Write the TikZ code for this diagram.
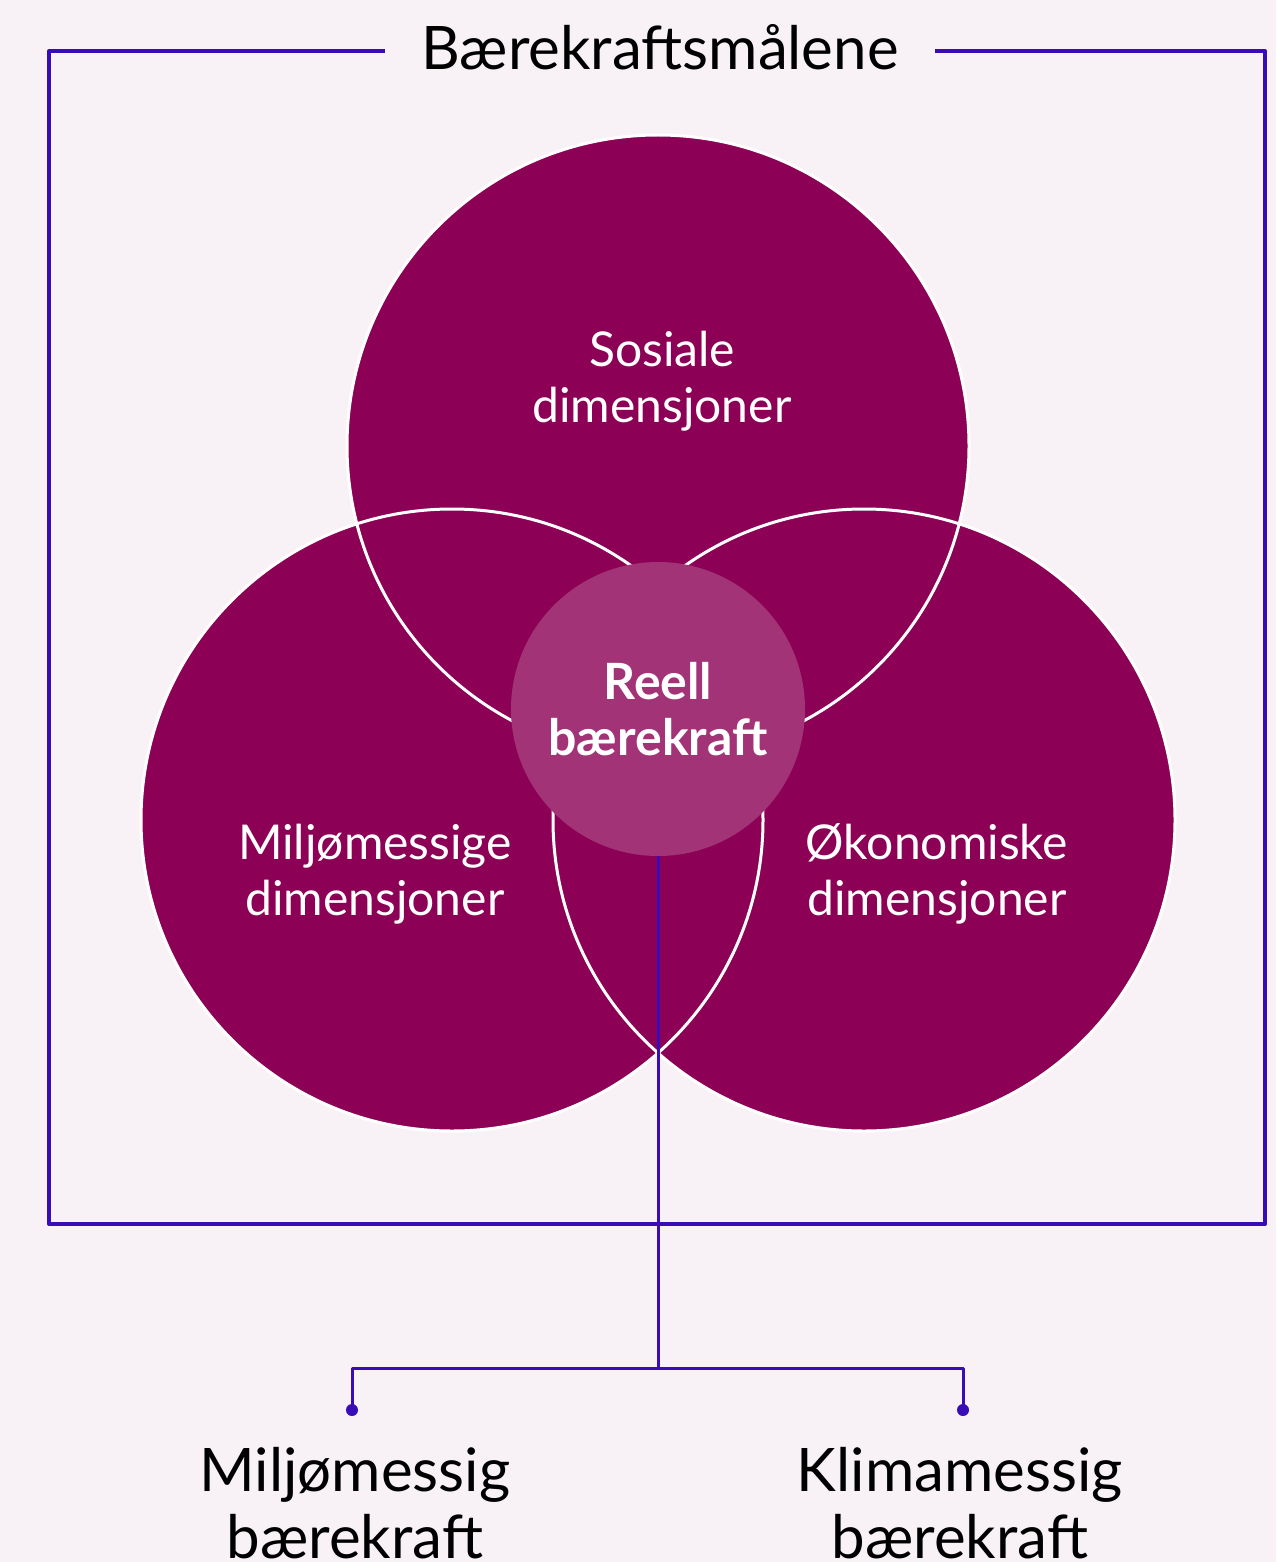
\documentclass[tikz,border=0pt]{standalone}
\usepackage{fontspec}
\setmainfont{Lato}
\usetikzlibrary{positioning}
\definecolor{bg}{HTML}{F8F2F6}
\definecolor{plum}{HTML}{8C0055}
\definecolor{rose}{HTML}{A33377}
\definecolor{indigo}{HTML}{3A0CB8}
\tikzset{
	dimfill/.style={circle,fill=plum,minimum size=311pt,inner sep=0pt},
	ring/.style={draw=white,line width=1.5pt},
	dimtext/.style={text=white,align=center,font=\fontsize{24}{28}\selectfont},
	frame/.style={draw=indigo,line width=2pt},
	link/.style={draw=indigo,line width=1.5pt},
	bigtext/.style={align=center,font=\fontsize{30}{33.5}\selectfont}
}
\begin{document}
\begin{tikzpicture}[line cap=round,line join=round,x=0.5pt,y=-0.5pt]
	\useasboundingbox (0,0) rectangle (1276,1562);
	\fill[bg] (0,0) rectangle (1276,1562);
	% frame with title
	\node[bigtext,inner xsep=18pt] (title) at (660,47) {Bærekraftsmålene};
	\coordinate (tl) at (49,51);
	\coordinate (bl) at (49,1224);
	\coordinate (br) at (1265,1224);
	\coordinate (tr) at (1265,51);
	\draw[frame,line cap=butt] (title.west |- tl) -- (tl) -- (bl) -- (br) -- (tr) -- (title.east |- tr);
	% the three dimensions
	\node[dimfill] (sos) at (658,446) {};
	\node[dimfill] (mil) at (452,820) {};
	\node[dimfill] (oko) at (864,820) {};
	\foreach \n in {sos,mil,oko}
		\draw[ring] (\n.center) circle[radius=155.5pt];
	\node[dimtext] (sostxt) at (662,381) {Sosiale\\dimensjoner};
	\node[dimtext] (miltxt) at (375,874) {Miljømessige\\dimensjoner};
	\node[dimtext] (okotxt) at (937,874) {Økonomiske\\dimensjoner};
	% connector down to the two kinds
	\coordinate (split) at (658,1368);
	\coordinate (dotL) at (352,1410);
	\coordinate (dotR) at (963,1410);
	\draw[link] (658,855) -- (split);
	\draw[link] (dotL) |- (split) -| (dotR);
	\fill[indigo] (dotL) circle (3pt);
	\fill[indigo] (dotR) circle (3pt);
	\node[circle,fill=rose,minimum size=147pt,inner sep=0pt,text=white,align=center,
		font=\bfseries\fontsize{25}{28}\selectfont] (core) at (658,709) {Reell\\bærekraft};
	\node[bigtext] (miljo) at (355,1503) {Miljømessig\\bærekraft};
	\node[bigtext] (klima) at (960,1503) {Klimamessig\\bærekraft};
\end{tikzpicture}
\end{document}
